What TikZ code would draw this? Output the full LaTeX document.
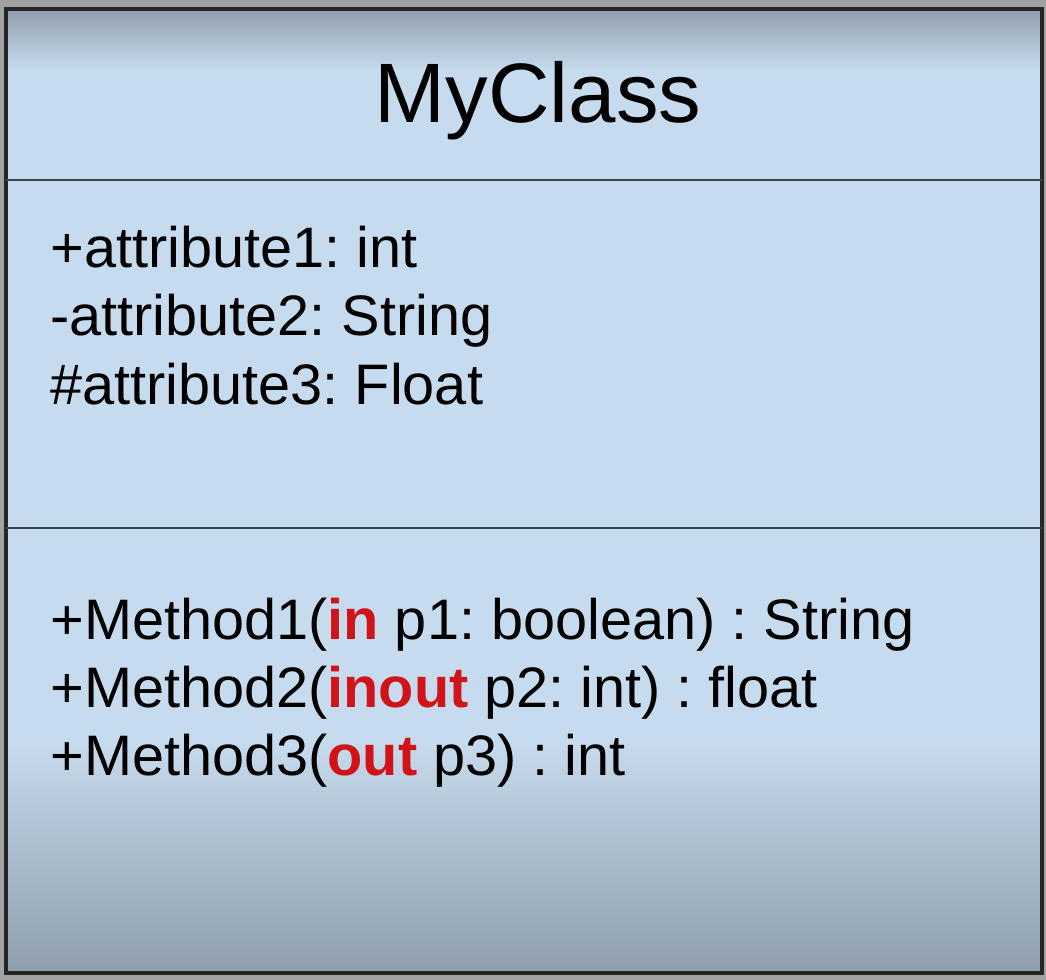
\documentclass[tikz,border=0pt]{standalone}
\usepackage{fontspec}
\setmainfont[FakeStretch=1.01]{Liberation Sans}
\definecolor{screengray}{HTML}{A2A2A2}
\definecolor{boxblue}{HTML}{C7DBEE}
\definecolor{boxshade}{HTML}{8D9DAB}
\definecolor{rulegray}{HTML}{3A4450}
\definecolor{kwred}{HTML}{D0141A}
\newcommand{\dirkw}[1]{\textcolor{kwred}{\textbf{#1}}}
\frenchspacing

\begin{document}
\begin{tikzpicture}[x=0.02cm, y=-0.02cm,
  every node/.style={inner sep=0pt, text=black},
  entry/.style={anchor=base west, font=\fontsize{32.5pt}{38pt}\selectfont},
  sep/.style={line width=1.5pt, rulegray}
]
  \fill[screengray] (0,0) rectangle (1046,980);
  \useasboundingbox (0,0) rectangle (1046,980);
  % class box body
  \fill[boxblue] (6,9) rectangle (1042,973);
  \shade[top color=boxshade, bottom color=boxblue] (6,9) rectangle (1042,70);
  \shade[top color=boxblue, bottom color=boxshade] (6,740) rectangle (1042,973);
  \draw[line width=2pt, black!85] (6,9) rectangle (1042,973);
  \draw[sep] (6,180) -- (1042,180);
  \draw[sep] (6,528) -- (1042,528);
  % name
  \node[anchor=base, font=\fontsize{48pt}{50pt}\selectfont] (title) at (538,123) {MyClass};
  % attributes
  \node[entry] (a1) at (50,268) {+attribute1: int};
  \node[entry] (a2) at (50,336) {-attribute2: String};
  \node[entry] (a3) at (50,404) {\#attribute3: Float};
  % operations
  \node[entry] (m1) at (50,639) {+Method1(\dirkw{in} p1: boolean) : String};
  \node[entry] (m2) at (50,707) {+Method2(\dirkw{inout} p2: int) : float};
  \node[entry] (m3) at (50,775) {+Method3(\dirkw{out} p3) : int};
\end{tikzpicture}
\end{document}
